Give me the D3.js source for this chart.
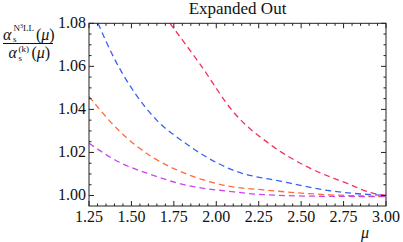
<!DOCTYPE html>
<html>
<head>
<meta charset="utf-8">
<script src="https://cdn.jsdelivr.net/npm/d3@7"></script>
<style>
  body { margin: 0; background: #fff; }
  svg { display: block; font-family: "Liberation Serif", "DejaVu Serif", serif; }
</style>
</head>
<body>
<svg id="chart" width="403" height="242"></svg>
<script>
// Data
const redMu = [1.727, 1.9, 2.1, 2.336, 2.552, 2.768, 2.925, 3.0];
const redVal = [1.08, 1.0615, 1.0389, 1.0227, 1.0127, 1.0057, 1.0010, 1.0000];
const blueMu = [1.303, 1.4, 1.521, 1.649, 1.8, 2.091, 2.395, 2.67, 3.0];
const blueVal = [1.08, 1.0635, 1.0475, 1.035, 1.0253, 1.0120, 1.0064, 1.0022, 1.0000];
const orangeMu = [1.25, 1.423, 1.62, 1.816, 2.091, 2.277, 2.67, 3.0];
const orangeVal = [1.046, 1.0304, 1.018, 1.0103, 1.0041, 1.0026, 1.0003, 0.9996];
const magentaMu = [1.25, 1.423, 1.62, 1.816, 2.091, 2.277, 2.67, 3.0];
const magentaVal = [1.0243, 1.0157, 1.0096, 1.0049, 1.0018, 1.0004, 0.9996, 0.9995];
const xTicks = [1.25, 1.5, 1.75, 2.0, 2.25, 2.5, 2.75, 3.0];
const yTicks = [1.00, 1.02, 1.04, 1.06, 1.08];

const series = [
  { mu: redMu, val: redVal, color: '#f5305a' },
  { mu: blueMu, val: blueVal, color: '#3a62f2' },
  { mu: orangeMu, val: orangeVal, color: '#ff6a3a' },
  { mu: magentaMu, val: magentaVal, color: '#cc44f2' }
];

const svg = d3.select('#chart');
const plotLeft = 89, plotRight = 386, plotTop = 23.3, plotBottom = 206;

const x = d3.scaleLinear().domain([1.25, 3.0]).range([plotLeft, plotRight]);
const y = d3.scaleLinear().domain([0.99512, 1.08]).range([plotBottom, plotTop]);

// Clip
svg.append('clipPath').attr('id', 'clip')
  .append('rect')
    .attr('x', plotLeft).attr('y', plotTop)
    .attr('width', plotRight - plotLeft).attr('height', plotBottom - plotTop);

// Curves
const line = d3.line()
  .x(d => x(d[0]))
  .y(d => y(d[1]))
  .curve(d3.curveMonotoneX);

svg.append('g')
    .attr('clip-path', 'url(#clip)')
  .selectAll('path')
  .data(series)
  .join('path')
    .attr('d', s => line(s.mu.map((m, i) => [m, s.val[i]])))
    .attr('fill', 'none')
    .attr('stroke', s => s.color)
    .attr('stroke-width', 1.3)
    .attr('stroke-dasharray', '6,4');

// Frame with inward ticks
const axisColor = '#222';
const xMinor = d3.range(1.25, 3.0001, 0.05);
const yMinor = d3.range(0.995, 1.0801, 0.005).filter(v => v >= 0.99512);

const frame = svg.append('g');
frame.append('rect')
  .attr('x', plotLeft).attr('y', plotTop)
  .attr('width', plotRight - plotLeft).attr('height', plotBottom - plotTop)
  .attr('fill', 'none').attr('stroke', axisColor).attr('stroke-width', 1);

const isMajorX = v => xTicks.some(t => Math.abs(t - v) < 1e-6);
const isMajorY = v => yTicks.some(t => Math.abs(t - v) < 1e-6);

xMinor.forEach(v => {
  const len = isMajorX(v) ? 5 : 2.5;
  frame.append('line').attr('x1', x(v)).attr('x2', x(v))
    .attr('y1', plotBottom).attr('y2', plotBottom - len).attr('stroke', axisColor);
  frame.append('line').attr('x1', x(v)).attr('x2', x(v))
    .attr('y1', plotTop).attr('y2', plotTop + len).attr('stroke', axisColor);
});
yMinor.forEach(v => {
  const len = isMajorY(v) ? 5 : 2.5;
  frame.append('line').attr('y1', y(v)).attr('y2', y(v))
    .attr('x1', plotLeft).attr('x2', plotLeft + len).attr('stroke', axisColor);
  frame.append('line').attr('y1', y(v)).attr('y2', y(v))
    .attr('x1', plotRight).attr('x2', plotRight - len).attr('stroke', axisColor);
});

// Tick labels
svg.append('g').selectAll('text')
  .data(xTicks)
  .join('text')
    .attr('x', d => x(d))
    .attr('y', 221.5)
    .attr('text-anchor', 'middle')
    .attr('font-size', 16)
    .attr('fill', '#111')
    .text(d => d.toFixed(2));

svg.append('g').selectAll('text')
  .data(yTicks)
  .join('text')
    .attr('x', 86)
    .attr('y', d => y(d) + 4.5)
    .attr('text-anchor', 'end')
    .attr('font-size', 16)
    .attr('fill', '#111')
    .text(d => d.toFixed(2));

// Title
svg.append('text')
  .attr('x', (plotLeft + plotRight) / 2)
  .attr('y', 14)
  .attr('text-anchor', 'middle')
  .attr('font-size', 17)
  .attr('fill', '#111')
  .text('Expanded Out');

// x label
svg.append('text')
  .attr('x', 365)
  .attr('y', 238)
  .attr('text-anchor', 'middle')
  .attr('font-size', 16)
  .attr('font-style', 'italic')
  .attr('fill', '#111')
  .text('μ');

// y label: fraction
const yl = svg.append('g').attr('fill', '#111');
// numerator
yl.append('text').attr('x', 3).attr('y', 40).attr('font-size', 16)
  .attr('font-style', 'italic').text('α');
yl.append('text').attr('x', 13).attr('y', 42).attr('font-size', 9).text('s');
const sup = yl.append('text').attr('x', 13.5).attr('y', 30.5).attr('font-size', 9);
sup.append('tspan').text('N');
sup.append('tspan').attr('font-size', 6).attr('dy', -3).text('3');
sup.append('tspan').attr('dy', 3).text('LL');
const numMu = yl.append('text').attr('x', 36).attr('y', 40).attr('font-size', 16);
numMu.append('tspan').text('(');
numMu.append('tspan').attr('font-style', 'italic').text('μ');
numMu.append('tspan').text(')');
// bar
yl.append('line').attr('x1', 3).attr('x2', 53).attr('y1', 43.5).attr('y2', 43.5)
  .attr('stroke', '#111').attr('stroke-width', 1);
// denominator
yl.append('text').attr('x', 8.5).attr('y', 58).attr('font-size', 16)
  .attr('font-style', 'italic').text('α');
yl.append('text').attr('x', 18.5).attr('y', 61).attr('font-size', 9).text('s');
yl.append('text').attr('x', 18.5).attr('y', 51.5).attr('font-size', 9).text('(k)');
const denMu = yl.append('text').attr('x', 31.5).attr('y', 58).attr('font-size', 16);
denMu.append('tspan').text('(');
denMu.append('tspan').attr('font-style', 'italic').text('μ');
denMu.append('tspan').text(')');
</script>
</body>
</html>
